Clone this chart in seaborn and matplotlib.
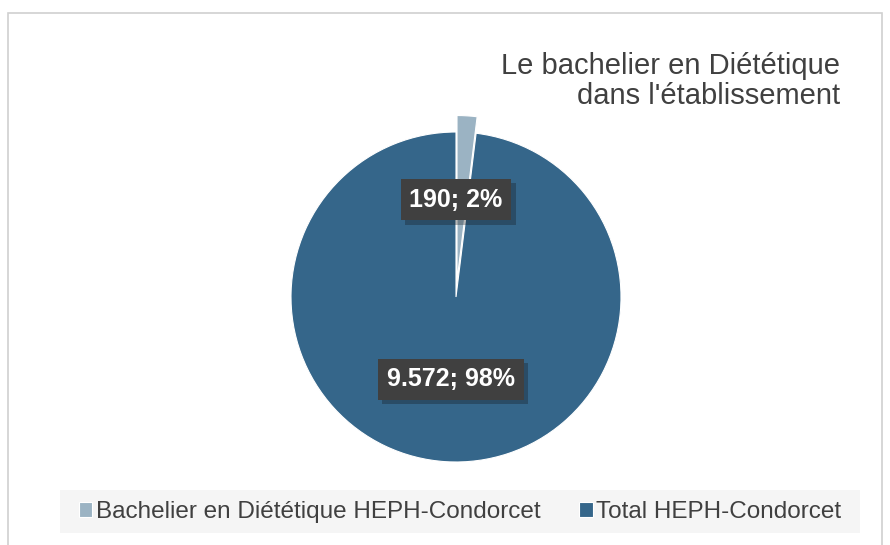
import matplotlib
matplotlib.use("Agg")
import matplotlib.pyplot as plt
import matplotlib.patheffects as pe
from matplotlib.patches import Rectangle
import seaborn as sns

# data
categories = ["Bachelier en Diététique HEPH-Condorcet", "Total HEPH-Condorcet"]
values = [190, 9572]
value_labels = ["190", "9.572"]
title = "Le bachelier en Diététique\ndans l'établissement"

sns.set_theme(style="white")
plt.rcParams['font.family'] = ['Liberation Sans', 'DejaVu Sans']

colors = ["#9bb3c3", "#35668a"]

fig = plt.figure(figsize=(8.9, 5.45), dpi=100)
fig.patch.set_facecolor("white")

# chart frame
fig.patches.append(Rectangle((8 / 890, -0.05), 874 / 890, 1.04 - 8 / 545,
                             transform=fig.transFigure, fill=False,
                             edgecolor="#d0d0d0", linewidth=1.2))

ax = fig.add_axes([258 / 890, 50 / 545, 396 / 890, 396 / 545])
total = sum(values)
wedges, _ = ax.pie(values, colors=colors, startangle=90, counterclock=False,
                   explode=[0.1, 0], wedgeprops=dict(linewidth=0.8, edgecolor="white"))
ax.set_xlim(-1.2, 1.2)
ax.set_ylim(-1.2, 1.2)
ax.set_axis_off()

label_pos = [(0.0, 0.59), (-0.03, -0.50)]
for lab, v, (x, y) in zip(value_labels, values, label_pos):
    pct = round(100 * v / total)
    t = ax.text(x, y, f"{lab}; {pct}%", ha="center", va="center", fontsize=18,
                fontweight="bold", color="white",
                bbox=dict(boxstyle="square,pad=0.35", facecolor="#404040", edgecolor="none"))
    t.get_bbox_patch().set_path_effects([pe.withSimplePatchShadow(offset=(3, -3), alpha=0.3),
                                         pe.Normal()])

fig.text(840 / 890, 1 - 52 / 545, title, ha="right", va="top", fontsize=21,
         color="#404040", linespacing=1.1)

# legend band
fig.patches.append(Rectangle((60 / 890, 1 - 533 / 545), 800 / 890, 43 / 545,
                             transform=fig.transFigure, facecolor="#f5f5f5",
                             edgecolor="none", zorder=0))
leg = fig.legend(wedges, categories, loc="center", bbox_to_anchor=(460 / 890, 1 - 512 / 545),
                 ncol=2, frameon=False, fontsize=17.5, handlelength=0.55, handleheight=0.55,
                 handletextpad=0.15, columnspacing=1.6)
for txt in leg.get_texts():
    txt.set_color("#404040")

fig.savefig("out.png", dpi=100)
